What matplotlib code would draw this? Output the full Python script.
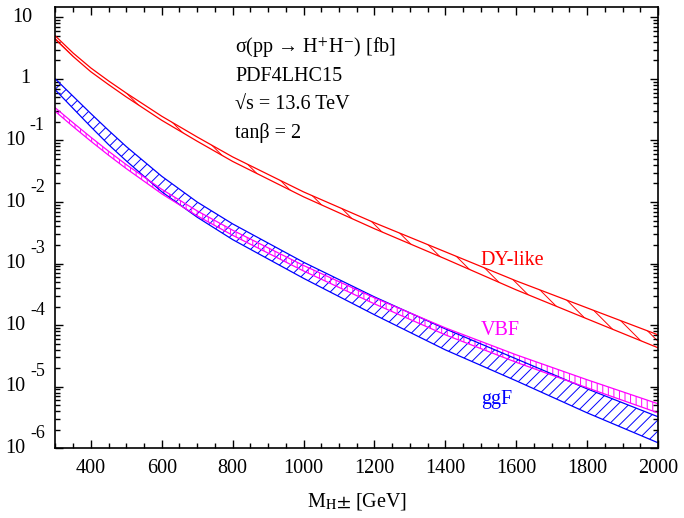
import numpy as np
import matplotlib
matplotlib.use("Agg")
import matplotlib.pyplot as plt
from matplotlib.ticker import MultipleLocator, LogLocator, NullFormatter

plt.rcParams['font.family'] = ['Liberation Serif', 'DejaVu Serif']
plt.rcParams['mathtext.fontset'] = 'stix'
plt.rcParams['hatch.linewidth'] = 0.7

# charged Higgs mass [GeV]
mass = [300, 350, 400, 450, 500, 600, 700, 800, 1000, 1200, 1400, 1600, 1800, 2000]

# cross sections [fb], band edges
dy_hi = [5.0, 2.64, 1.51, 0.93, 0.59, 0.248, 0.114, 0.0541, 0.0146, 0.00460,
         0.00155, 5.22e-4, 1.90e-4, 6.93e-5]
dy_lo = [4.39, 2.32, 1.31, 0.81, 0.51, 0.213, 0.0973, 0.0457, 0.01215, 0.00368,
         0.00119, 3.73e-4, 1.26e-4, 4.27e-5]
vbf_hi = [0.338, 0.194, 0.113, 0.0669, 0.0405, 0.0161, 0.00717, 0.00348, 9.3e-4,
          2.77e-4, 9.0e-5, 3.28e-5, 1.29e-5, 5.25e-6]
vbf_lo = [0.296, 0.168, 0.0974, 0.0576, 0.0349, 0.0136, 0.00595, 0.00288, 7.57e-4,
          2.21e-4, 6.93e-5, 2.48e-5, 9.55e-6, 3.74e-6]
ggf_hi = [1.0, 0.523, 0.274, 0.146, 0.0796, 0.0262, 0.00999, 0.00441, 0.00105,
          2.87e-4, 8.67e-5, 2.82e-5, 9.18e-6, 3.23e-6]
ggf_lo = [0.662, 0.332, 0.167, 0.0857, 0.0466, 0.01469, 0.00566, 0.00245, 5.75e-4,
          1.47e-4, 3.95e-5, 1.24e-5, 3.74e-6, 1.22e-6]

bands = [
    ("ggF", ggf_lo, ggf_hi, "#0000ff", "///", 5.3e-6),
    ("VBF", vbf_lo, vbf_hi, "#ff00ff", "|||", 6.9e-5),
    ("DY-like", dy_lo, dy_hi, "#ff0000", "\\\\", 9.5e-4),
]

info_lines = ["σ(pp → H$^{+}$H$^{-}$) [fb]", "PDF4LHC15", "√s = 13.6 TeV", "tanβ = 2"]

fig = plt.figure(figsize=(6.84, 5.18), dpi=100)
ax = fig.add_axes([0.081, 0.135, 0.881, 0.8515])

for name, lo, hi, col, hatch, ylab in bands:
    ax.fill_between(mass, lo, hi, facecolor='none', edgecolor=col, hatch=hatch, linewidth=0)
    ax.plot(mass, hi, color=col, lw=0.9)
    ax.plot(mass, lo, color=col, lw=0.9)
    ax.text(1500, ylab, name, color=col, fontsize=14.5, ha='left', va='baseline')

ax.set_yscale('log')
ax.set_xlim(300, 2000)
ax.set_ylim(1e-6, 14.8)

ax.xaxis.set_major_locator(MultipleLocator(200))
ax.xaxis.set_minor_locator(MultipleLocator(50))
ax.yaxis.set_major_locator(LogLocator(base=10, numticks=20))
ax.yaxis.set_minor_locator(LogLocator(base=10, subs=np.arange(2, 10), numticks=20))
ax.yaxis.set_major_formatter(NullFormatter())
ax.yaxis.set_minor_formatter(NullFormatter())

ax.tick_params(which='both', direction='in', top=True, right=True, width=1.0)
ax.tick_params(which='major', length=6)
ax.tick_params(which='minor', length=3.6)
ax.tick_params(axis='x', labelsize=14.5, pad=8)
for s in ax.spines.values():
    s.set_linewidth(1.2)

# y labels written as "10" with a raised exponent, like the original
for e in range(1, -7, -1):
    if e == 1:
        ax.annotate("10", xy=(0, 10.0 ** e), xycoords=('axes fraction', 'data'),
                    xytext=(-24, 0), textcoords='offset points',
                    ha='center', va='center', fontsize=14.5)
    elif e == 0:
        ax.annotate("1", xy=(0, 1.0), xycoords=('axes fraction', 'data'),
                    xytext=(-21.5, 0), textcoords='offset points',
                    ha='center', va='center', fontsize=14.5)
    else:
        ax.annotate("10", xy=(0, 10.0 ** e), xycoords=('axes fraction', 'data'),
                    xytext=(-29, 0), textcoords='offset points',
                    ha='center', va='center', fontsize=14.5)
        ax.annotate(str(e), xy=(0, 10.0 ** e), xycoords=('axes fraction', 'data'),
                    xytext=(-13, 10.5), textcoords='offset points',
                    ha='center', va='center', fontsize=13)

ax.set_xlabel(r"M$_{\mathrm{H}}$$\pm$ [GeV]", fontsize=14.5, labelpad=9)

for i, line in enumerate(info_lines):
    ax.text(0.298, 0.896 - i * 0.0645, line, transform=ax.transAxes,
            fontsize=14.5, ha='left', va='baseline')

fig.savefig("out.png", dpi=100)
